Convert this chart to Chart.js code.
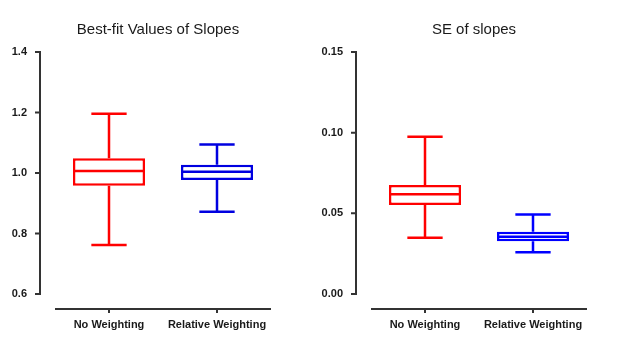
<!DOCTYPE html>
<html>
<head>
<meta charset="utf-8">
<script src="https://cdn.jsdelivr.net/npm/chart.js@4.4.1/dist/chart.umd.min.js"></script>
<style>
  body { margin: 0; background: #fff; }
  .panel { position: absolute; top: 0; width: 316px; height: 350px; }
</style>
</head>
<body>
<div class="panel" style="left:0"><canvas id="slopes"></canvas></div>
<div class="panel" style="left:316px"><canvas id="se"></canvas></div>
<script>
const groups = ['No Weighting', 'Relative Weighting'];

// best-fit slopes: min, q1, median, q3, max
const slopeMin = [0.762, 0.872];
const slopeQ1 = [0.958, 0.977];
const slopeMedian = [1.007, 1.004];
const slopeQ3 = [1.049, 1.027];
const slopeMax = [1.196, 1.094];
const slopeTicks = [0.6, 0.8, 1.0, 1.2, 1.4];

// SE of slopes
const seMin = [0.0349, 0.0259];
const seQ1 = [0.0552, 0.0327];
const seMedian = [0.0618, 0.0355];
const seQ3 = [0.0676, 0.0386];
const seMax = [0.0975, 0.0493];
const seTicks = [0.00, 0.05, 0.10, 0.15];

const font = "'Liberation Sans', Arial, sans-serif";

// whiskers, caps and median line for each box
const whiskerPlugin = {
  id: 'whiskers',
  afterDatasetsDraw(chart) {
    const ctx = chart.ctx;
    const y = chart.scales.y;
    chart.data.datasets.forEach((ds, di) => {
      const meta = chart.getDatasetMeta(di);
      meta.data.forEach((bar, i) => {
        const cx = bar.x;
        const half = bar.width / 2;
        const cap = bar.width * 0.245;
        const yMin = y.getPixelForValue(ds.stats.min[i]);
        const yQ1 = y.getPixelForValue(ds.stats.q1[i]);
        const yMed = y.getPixelForValue(ds.stats.median[i]);
        const yQ3 = y.getPixelForValue(ds.stats.q3[i]);
        const yMax = y.getPixelForValue(ds.stats.max[i]);
        ctx.save();
        ctx.strokeStyle = ds.borderColor[i];
        ctx.lineWidth = ds.borderWidth;
        ctx.beginPath();
        ctx.moveTo(cx, yQ3); ctx.lineTo(cx, yMax);
        ctx.moveTo(cx - cap, yMax); ctx.lineTo(cx + cap, yMax);
        ctx.moveTo(cx, yQ1); ctx.lineTo(cx, yMin);
        ctx.moveTo(cx - cap, yMin); ctx.lineTo(cx + cap, yMin);
        ctx.moveTo(cx - half + 1, yMed); ctx.lineTo(cx + half - 1, yMed);
        ctx.stroke();
        ctx.restore();
      });
    });
  }
};

// detached axes, Prism style
const axisPlugin = {
  id: 'offsetAxes',
  afterDraw(chart) {
    const { ctx, chartArea, scales: { x, y } } = chart;
    const ax = chartArea.left - 15;
    const ay = chartArea.bottom + 15;
    ctx.save();
    ctx.strokeStyle = '#333';
    ctx.lineWidth = 2;
    ctx.beginPath();
    ctx.moveTo(ax, y.top - 1); ctx.lineTo(ax, y.bottom + 1);
    y.ticks.forEach(t => {
      const py = y.getPixelForValue(t.value);
      ctx.moveTo(ax - 5, py); ctx.lineTo(ax, py);
    });
    ctx.moveTo(chartArea.left, ay); ctx.lineTo(chartArea.right, ay);
    x.ticks.forEach((t, i) => {
      const px = x.getPixelForTick(i);
      ctx.moveTo(px, ay); ctx.lineTo(px, ay + 4);
    });
    ctx.stroke();
    ctx.restore();
  }
};

function makeChart(id, title, stats, ticks, decimals, colors) {
  return new Chart(document.getElementById(id), {
    type: 'bar',
    data: {
      labels: groups,
      datasets: [{
        data: groups.map((g, i) => [stats.q1[i], stats.q3[i]]),
        stats: stats,
        backgroundColor: '#fff',
        borderColor: colors,
        borderWidth: 2.5,
        borderSkipped: false,
        barPercentage: 0.667,
        categoryPercentage: 1
      }]
    },
    options: {
      responsive: true,
      maintainAspectRatio: false,
      animation: false,
      layout: { padding: 0 },
      plugins: {
        legend: { display: false },
        tooltip: { enabled: false },
        title: {
          display: true,
          text: title,
          color: '#1a1a1a',
          font: { family: font, size: 15, weight: 'normal' },
          padding: { top: 21, bottom: 13 }
        }
      },
      scales: {
        x: {
          grid: { display: false },
          border: { display: false },
          ticks: { color: '#1a1a1a', font: { family: font, size: 11, weight: 'bold' }, padding: 16, maxRotation: 0 },
          afterFit(scale) { scale.height = 56; }
        },
        y: {
          min: ticks[0],
          max: ticks[ticks.length - 1],
          grid: { display: false },
          border: { display: false },
          ticks: {
            color: '#1a1a1a',
            font: { family: font, size: 11, weight: 'bold' },
            padding: 20,
            callback: v => Number(v).toFixed(decimals)
          },
          afterBuildTicks(scale) { scale.ticks = ticks.map(v => ({ value: v })); },
          afterFit(scale) { scale.width = 55; }
        },
        // empty right-hand strip so the title stays centred on the panel
        spacer: {
          type: 'linear',
          position: 'right',
          grid: { display: false },
          border: { display: false },
          ticks: { display: false },
          afterFit(scale) { scale.width = 45; }
        }
      }
    },
    plugins: [whiskerPlugin, axisPlugin]
  });
}

makeChart('slopes', 'Best-fit Values of Slopes',
  { min: slopeMin, q1: slopeQ1, median: slopeMedian, q3: slopeQ3, max: slopeMax },
  slopeTicks, 1, ['#ff0000', '#0000e0']);

makeChart('se', 'SE of slopes',
  { min: seMin, q1: seQ1, median: seMedian, q3: seQ3, max: seMax },
  seTicks, 2, ['#ff0000', '#0000ff']);
</script>
</body>
</html>
